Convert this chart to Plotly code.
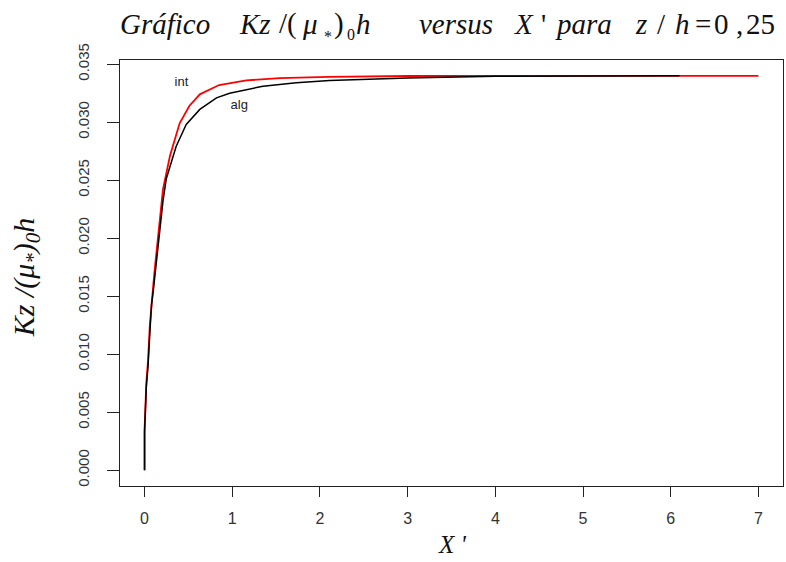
import plotly.graph_objects as go

# Red curve ("int")
x_int = [0.0, 0.0, 0.02, 0.04, 0.06, 0.08, 0.10, 0.125, 0.15, 0.21, 0.29, 0.40, 0.51,
         0.63, 0.85, 1.16, 1.54, 2.1, 3.0, 4.0, 5.0, 6.0, 7.0]
y_int = [0.0, 0.0035, 0.0075, 0.0095, 0.0125, 0.0145, 0.0160, 0.0180, 0.0197, 0.0242,
         0.0271, 0.0299, 0.0314, 0.0324, 0.0332, 0.0336, 0.0338, 0.0339, 0.03398,
         0.0340, 0.0340, 0.0340, 0.0340]

# Black curve ("alg")
x_alg = [0.0, 0.0, 0.02, 0.04, 0.06, 0.08, 0.10, 0.125, 0.15, 0.21, 0.247, 0.36, 0.475,
         0.63, 0.82, 0.97, 1.35, 1.73, 2.11, 3.0, 4.0, 5.0, 6.1]
y_alg = [0.0, 0.0033, 0.0072, 0.0090, 0.0118, 0.0143, 0.0155, 0.0172, 0.0190, 0.0232,
         0.0251, 0.0279, 0.0298, 0.0311, 0.0321, 0.0325, 0.0331, 0.0334, 0.0336,
         0.0338, 0.03395, 0.0340, 0.0340]

x_ticks = [0, 1, 2, 3, 4, 5, 6, 7]
y_ticks = [0.000, 0.005, 0.010, 0.015, 0.020, 0.025, 0.030, 0.035]
y_tick_text = ["0.000", "0.005", "0.010", "0.015", "0.020", "0.025", "0.030", "0.035"]

labels = ["int", "alg"]
label_x = [0.42, 1.08]
label_y = [0.0334, 0.0314]

# title pieces: text, left pixel, kind ("m" main, "s" subscript, "a" asterisk)
title_parts = ["<i>Gráfico</i>", "<i>Kz</i>", "/(", "<i>μ</i>", "*", ")", "0", "<i>h</i>",
               "<i>versus</i>", "<i>X</i>", "'", "<i>para</i>",
               "<i>z</i>", "/", "<i>h</i>", "=", "0", ",", "25"]
title_left_px = [119, 238, 278, 301, 323, 333, 346, 355,
                 418, 513, 540, 554,
                 634, 656, 674, 694, 713, 735, 745]
title_kind = ["m", "m", "m", "m", "a", "m", "s", "m",
              "m", "m", "m", "m",
              "m", "m", "m", "m", "m", "m", "m"]

serif = "Liberation Serif, Times New Roman, serif"
xtickfont = dict(family="Liberation Sans, Arial", size=16, color="#333333")
ytickfont = dict(family="Liberation Sans Narrow, Liberation Sans, Arial", size=15, color="#333333")

L, R, T, B = 120, 3, 60, 76
W, H = 786, 562
PW = W - L - R

fig = go.Figure()
fig.add_trace(go.Scatter(x=x_int, y=y_int, mode="lines",
                         line=dict(color="#ff0000", width=1.8), showlegend=False))
fig.add_trace(go.Scatter(x=x_alg, y=y_alg, mode="lines",
                         line=dict(color="#000000", width=1.5), showlegend=False))
fig.add_trace(go.Scatter(x=label_x, y=label_y, mode="text", text=labels,
                         textfont=dict(family="Liberation Sans, Arial", size=13, color="#222222"),
                         textposition="middle center", showlegend=False))

annotations = []
for txt, px, kind in zip(title_parts, title_left_px, title_kind):
    if kind == "m":
        size, ysh = 29, 19
    elif kind == "s":
        size, ysh = 16, 16
    else:
        size, ysh = 16, 14
    annotations.append(dict(text=txt, xref="paper", yref="paper", x=(px - L) / PW, y=1.0,
                            yshift=ysh, showarrow=False, xanchor="left", yanchor="bottom",
                            borderpad=0,
                            font=dict(family=serif, size=size, color="#111111")))
annotations.append(dict(text="<i>X '</i>", xref="paper", yref="paper", x=(452 - L) / PW, y=0,
                        yshift=-74, showarrow=False,
                        font=dict(family=serif, size=25, color="#111111"),
                        xanchor="center", yanchor="bottom"))
annotations.append(dict(text="<i>Kz /(μ<sub>*</sub>)<sub>0</sub>h</i>", xref="paper", yref="paper",
                        x=0, xshift=-94, y=0.49, showarrow=False, textangle=-90,
                        font=dict(family=serif, size=30, color="#111111"),
                        xanchor="center", yanchor="middle"))

fig.update_layout(
    width=W, height=H,
    margin=dict(l=L, r=R, t=T, b=B),
    paper_bgcolor="white", plot_bgcolor="white",
    xaxis=dict(range=[-0.28, 7.28], tickvals=x_ticks, ticks="outside", ticklen=10,
               tickcolor="#222222", showgrid=False, zeroline=False, showline=True,
               linecolor="#222222", linewidth=1, mirror=True, tickfont=xtickfont,
               ticklabelstandoff=8),
    yaxis=dict(range=[-0.00136, 0.03536], tickvals=y_ticks, ticktext=y_tick_text,
               ticks="outside", ticklen=12, tickcolor="#222222", tickangle=-90,
               showgrid=False, zeroline=False, showline=True, linecolor="#222222",
               linewidth=1, mirror=True, tickfont=ytickfont, ticklabelstandoff=12),
    annotations=annotations,
)

fig.write_html("out.html", post_script="document.body.style.margin='0';",
               config={"displayModeBar": False})
